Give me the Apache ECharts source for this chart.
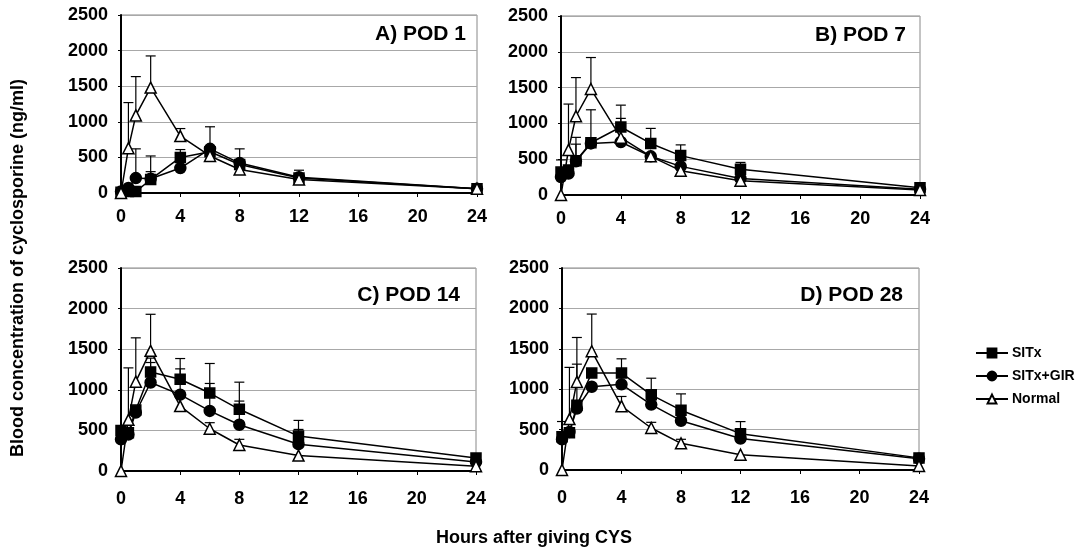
<!DOCTYPE html>
<html>
<head>
<meta charset="utf-8">
<script src="https://cdn.jsdelivr.net/npm/echarts@6/dist/echarts.min.js"></script>
<style>html,body{margin:0;padding:0;background:#fff}#c{width:1079px;height:550px}</style>
</head>
<body>
<div id="c"></div>
<script>
// ---- data ----
const hours = [0, 0.5, 1, 2, 4, 6, 8, 12, 24];
const xTicks = [0, 4, 8, 12, 16, 20, 24];
const yTicks = [0, 500, 1000, 1500, 2000, 2500];
const seriesNames = ['SITx', 'SITx+GIR', 'Normal'];
const panelTitles = ['A) POD 1', 'B) POD 7', 'C) POD 14', 'D) POD 28'];

// Panel A (POD 1)
const A_SITx      = [10, 20, 20, 190, 500, 580, 400, 210, 60];
const A_SITx_sd   = [null, null, null, 110, 110, null, null, null, null];
const A_GIR       = [20, 70, 210, 200, 350, 620, 420, 220, 60];
const A_GIR_sd    = [null, null, 410, 320, null, 310, 200, 100, null];
const A_Normal    = [0, 630, 1090, 1480, 800, 520, 330, 190, 60];
const A_Normal_sd = [null, 640, 545, 445, 105, null, null, null, null];

// Panel B (POD 7)
const B_SITx      = [320, 350, 480, 730, 950, 720, 550, 360, 100];
const B_SITx_sd   = [170, null, 325, 460, 305, 210, 150, 95, null];
const B_GIR       = [250, 300, 470, 720, 740, 540, 400, 230, 80];
const B_GIR_sd    = [null, null, 240, null, 330, null, null, null, null];
const B_Normal    = [0, 630, 1100, 1480, 800, 540, 340, 200, 70];
const B_Normal_sd = [null, 640, 540, 440, null, null, null, null, null];

// Panel C (POD 14)
const C_SITx      = [500, 470, 750, 1220, 1130, 960, 760, 430, 160];
const C_SITx_sd   = [null, null, null, 170, 255, 364, 334, 193, null];
const C_GIR       = [390, 450, 720, 1090, 940, 740, 570, 330, 110];
const C_GIR_sd    = [null, null, null, 246, 318, 338, 291, 182, null];
const C_Normal    = [0, 630, 1100, 1480, 800, 520, 320, 190, 60];
const C_Normal_sd = [null, 640, 540, 450, null, 75, 70, null, null];

// Panel D (POD 28)
const D_SITx      = [410, 460, 800, 1200, 1200, 930, 740, 450, 150];
const D_SITx_sd   = [190, null, 510, null, 176, 206, 202, 149, null];
const D_GIR       = [380, 470, 760, 1030, 1060, 810, 610, 390, 140];
const D_GIR_sd    = [null, null, null, null, null, null, null, null, null];
const D_Normal    = [0, 630, 1090, 1470, 790, 520, 330, 190, 50];
const D_Normal_sd = [null, 640, 550, 460, 120, 70, 50, null, null];

const panels = [
  [[A_SITx, A_SITx_sd], [A_GIR, A_GIR_sd], [A_Normal, A_Normal_sd]],
  [[B_SITx, B_SITx_sd], [B_GIR, B_GIR_sd], [B_Normal, B_Normal_sd]],
  [[C_SITx, C_SITx_sd], [C_GIR, C_GIR_sd], [C_Normal, C_Normal_sd]],
  [[D_SITx, D_SITx_sd], [D_GIR, D_GIR_sd], [D_Normal, D_Normal_sd]]
];

// ---- layout / style ----
const FONT = '"Liberation Sans", Arial, Helvetica, sans-serif';
const grids = [
  {left: 121, top: 15, width: 356, height: 178},
  {left: 561, top: 16, width: 359, height: 179},
  {left: 121, top: 268, width: 355, height: 203},
  {left: 562, top: 268, width: 357, height: 202}
];
const xLabelMargin = [15, 15, 19, 19];
const symbols = [
  {symbol: 'rect', size: 10, color: '#000', border: '#000'},
  {symbol: 'circle', size: 11, color: '#000', border: '#000'},
  {symbol: 'triangle', size: 11, color: '#fff', border: '#000'}
];

function errRender(params, api) {
  const x = api.value(0), m = api.value(1), s = api.value(2);
  const p0 = api.coord([x, m]);
  const p1 = api.coord([x, m + s]);
  const st = {stroke: '#000', lineWidth: 1.2};
  return {type: 'group', children: [
    {type: 'line', shape: {x1: p0[0], y1: p0[1], x2: p1[0], y2: p1[1]}, style: st},
    {type: 'line', shape: {x1: p1[0] - 5, y1: p1[1], x2: p1[0] + 5, y2: p1[1]}, style: st}
  ]};
}

const xAxes = [], yAxes = [], series = [];
grids.forEach((g, i) => {
  g.show = true; g.borderColor = '#888'; g.borderWidth = 1;
  xAxes.push({
    type: 'value', gridIndex: i, min: 0, max: 24, interval: 4,
    axisLine: {show: true, onZero: false, lineStyle: {color: '#000', width: 2}},
    axisTick: {show: true, length: 4, lineStyle: {color: '#000', width: 1}},
    splitLine: {show: false},
    axisLabel: {show: true, margin: xLabelMargin[i], color: '#000', fontFamily: FONT, fontWeight: 'bold', fontSize: 18,
      formatter: v => xTicks.indexOf(v) >= 0 ? String(v) : ''}
  });
  yAxes.push({
    type: 'value', gridIndex: i, min: 0, max: 2500, interval: 500,
    axisLine: {show: true, lineStyle: {color: '#000', width: 2}},
    axisTick: {show: true, length: 3, lineStyle: {color: '#000'}},
    splitLine: {show: true, lineStyle: {color: '#a8a8a8', width: 1}},
    axisLabel: {show: true, margin: 13, color: '#000', fontFamily: FONT, fontWeight: 'bold', fontSize: 18,
      formatter: v => yTicks.indexOf(v) >= 0 ? String(v) : ''}
  });
  panels[i].forEach((pair, k) => {
    const vals = pair[0], sds = pair[1];
    const errData = [];
    hours.forEach((h, j) => { if (sds[j] != null) errData.push([h, vals[j], sds[j]]); });
    series.push({
      type: 'custom', name: seriesNames[k] + '_err', xAxisIndex: i, yAxisIndex: i,
      renderItem: errRender, data: errData, encode: {x: 0, y: 1}, z: 1, silent: true
    });
  });
  panels[i].forEach((pair, k) => {
    const vals = pair[0];
    const sy = symbols[k];
    series.push({
      type: 'line', name: seriesNames[k], xAxisIndex: i, yAxisIndex: i,
      data: hours.map((h, j) => [h, vals[j]]),
      symbol: sy.symbol, symbolSize: sy.size, showAllSymbol: true,
      lineStyle: {color: '#000', width: 1.5},
      itemStyle: {color: sy.color, borderColor: sy.border, borderWidth: 1.5},
      z: 3 + k
    });
  });
});

const titlePos = [[466, 34], [906, 35], [460, 295], [903, 295]];
const graphics = panelTitles.map((t, i) => ({
  type: 'text', x: titlePos[i][0], y: titlePos[i][1], z: 10,
  style: {text: t, textAlign: 'right', textVerticalAlign: 'middle', fill: '#000',
    font: 'bold 21px ' + FONT}
}));
graphics.push({
  type: 'text', x: 18, y: 268, rotation: Math.PI / 2, z: 10,
  style: {text: 'Blood concentration of cyclosporine (ng/ml)', textAlign: 'center', textVerticalAlign: 'middle',
    fill: '#000', font: 'bold 18px ' + FONT}
});
graphics.push({
  type: 'text', x: 534, y: 538, z: 10,
  style: {text: 'Hours after giving CYS', textAlign: 'center', textVerticalAlign: 'middle',
    fill: '#000', font: 'bold 18px ' + FONT}
});

const chart = echarts.init(document.getElementById('c'), null, {renderer: 'canvas'});
chart.setOption({
  animation: false,
  backgroundColor: '#fff',
  grid: grids,
  xAxis: xAxes,
  yAxis: yAxes,
  legend: {
    data: seriesNames, orient: 'vertical', left: 975, top: 346, padding: 0,
    itemWidth: 32, itemHeight: 11, itemGap: 9,
    textStyle: {color: '#000', fontFamily: FONT, fontWeight: 'bold', fontSize: 14, padding: [0, 0, 0, -1]},
    selectedMode: false
  },
  graphic: graphics,
  series: series
});
</script>
</body>
</html>
